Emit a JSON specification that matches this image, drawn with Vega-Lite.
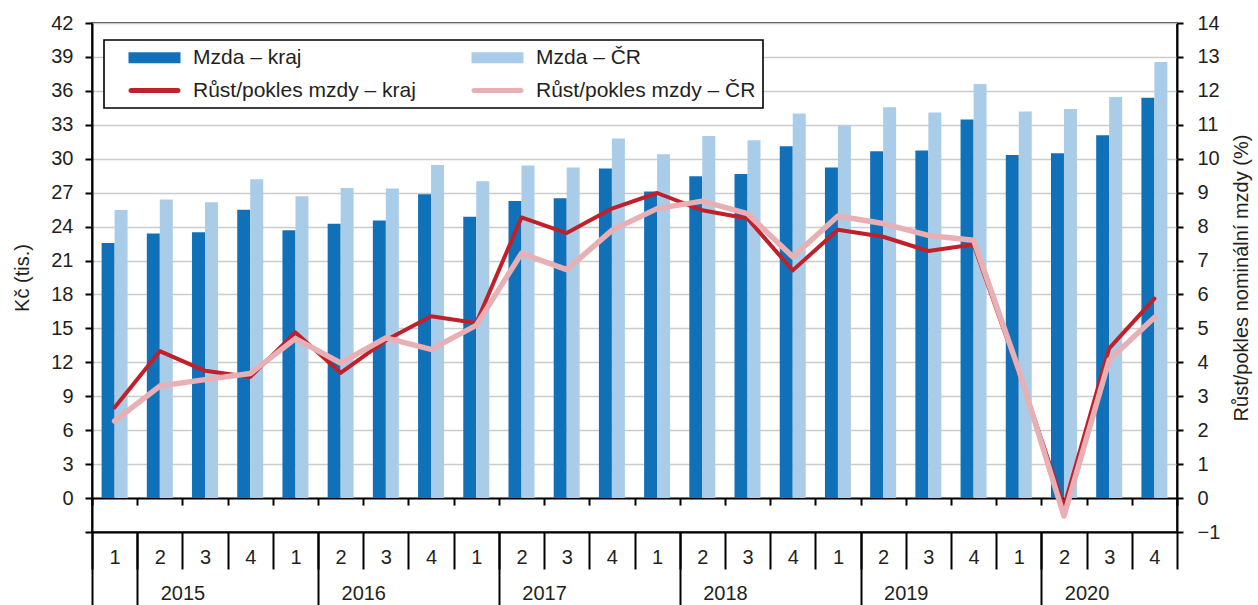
{
  "$schema": "https://vega.github.io/schema/vega-lite/v6.json",
  "width": 1085,
  "height": 509,
  "autosize": {"type": "none"},
  "padding": {"left": 92, "top": 23, "right": 81, "bottom": 73},
  "config": {
    "font": "Liberation Sans",
    "view": {"stroke": "#000000", "strokeWidth": 1.5},
    "axis": {
      "labelFont": "Liberation Sans",
      "labelFontSize": 20,
      "labelColor": "#231F20",
      "titleFont": "Liberation Sans",
      "titleFontSize": 20,
      "titleFontWeight": "normal",
      "titleColor": "#231F20",
      "domainColor": "#000000",
      "domainWidth": 2,
      "tickColor": "#000000",
      "tickWidth": 2
    }
  },
  "data": {
    "values": [
      {"period": "2015-1", "series": "Mzda – kraj", "value": 22.55},
      {"period": "2015-2", "series": "Mzda – kraj", "value": 23.40},
      {"period": "2015-3", "series": "Mzda – kraj", "value": 23.49},
      {"period": "2015-4", "series": "Mzda – kraj", "value": 25.50},
      {"period": "2016-1", "series": "Mzda – kraj", "value": 23.67},
      {"period": "2016-2", "series": "Mzda – kraj", "value": 24.26},
      {"period": "2016-3", "series": "Mzda – kraj", "value": 24.55},
      {"period": "2016-4", "series": "Mzda – kraj", "value": 26.86},
      {"period": "2017-1", "series": "Mzda – kraj", "value": 24.88},
      {"period": "2017-2", "series": "Mzda – kraj", "value": 26.27},
      {"period": "2017-3", "series": "Mzda – kraj", "value": 26.50},
      {"period": "2017-4", "series": "Mzda – kraj", "value": 29.13},
      {"period": "2018-1", "series": "Mzda – kraj", "value": 27.10},
      {"period": "2018-2", "series": "Mzda – kraj", "value": 28.45},
      {"period": "2018-3", "series": "Mzda – kraj", "value": 28.66},
      {"period": "2018-4", "series": "Mzda – kraj", "value": 31.11},
      {"period": "2019-1", "series": "Mzda – kraj", "value": 29.22},
      {"period": "2019-2", "series": "Mzda – kraj", "value": 30.67},
      {"period": "2019-3", "series": "Mzda – kraj", "value": 30.73},
      {"period": "2019-4", "series": "Mzda – kraj", "value": 33.47},
      {"period": "2020-1", "series": "Mzda – kraj", "value": 30.34},
      {"period": "2020-2", "series": "Mzda – kraj", "value": 30.49},
      {"period": "2020-3", "series": "Mzda – kraj", "value": 32.08},
      {"period": "2020-4", "series": "Mzda – kraj", "value": 35.39},
      {"period": "2015-1", "series": "Mzda – ČR", "value": 25.47},
      {"period": "2015-2", "series": "Mzda – ČR", "value": 26.39},
      {"period": "2015-3", "series": "Mzda – ČR", "value": 26.15},
      {"period": "2015-4", "series": "Mzda – ČR", "value": 28.19},
      {"period": "2016-1", "series": "Mzda – ČR", "value": 26.68},
      {"period": "2016-2", "series": "Mzda – ČR", "value": 27.42},
      {"period": "2016-3", "series": "Mzda – ČR", "value": 27.36},
      {"period": "2016-4", "series": "Mzda – ČR", "value": 29.45},
      {"period": "2017-1", "series": "Mzda – ČR", "value": 28.01},
      {"period": "2017-2", "series": "Mzda – ČR", "value": 29.40},
      {"period": "2017-3", "series": "Mzda – ČR", "value": 29.22},
      {"period": "2017-4", "series": "Mzda – ČR", "value": 31.79},
      {"period": "2018-1", "series": "Mzda – ČR", "value": 30.40},
      {"period": "2018-2", "series": "Mzda – ČR", "value": 32.00},
      {"period": "2018-3", "series": "Mzda – ČR", "value": 31.64},
      {"period": "2018-4", "series": "Mzda – ČR", "value": 34.00},
      {"period": "2019-1", "series": "Mzda – ČR", "value": 32.91},
      {"period": "2019-2", "series": "Mzda – ČR", "value": 34.56},
      {"period": "2019-3", "series": "Mzda – ČR", "value": 34.09},
      {"period": "2019-4", "series": "Mzda – ČR", "value": 36.60},
      {"period": "2020-1", "series": "Mzda – ČR", "value": 34.18},
      {"period": "2020-2", "series": "Mzda – ČR", "value": 34.39},
      {"period": "2020-3", "series": "Mzda – ČR", "value": 35.45},
      {"period": "2020-4", "series": "Mzda – ČR", "value": 38.55},
      {"period": "2015-1", "series": "Růst/pokles mzdy – kraj", "value": 2.67},
      {"period": "2015-2", "series": "Růst/pokles mzdy – kraj", "value": 4.33},
      {"period": "2015-3", "series": "Růst/pokles mzdy – kraj", "value": 3.75},
      {"period": "2015-4", "series": "Růst/pokles mzdy – kraj", "value": 3.57},
      {"period": "2016-1", "series": "Růst/pokles mzdy – kraj", "value": 4.88},
      {"period": "2016-2", "series": "Růst/pokles mzdy – kraj", "value": 3.69},
      {"period": "2016-3", "series": "Růst/pokles mzdy – kraj", "value": 4.65},
      {"period": "2016-4", "series": "Růst/pokles mzdy – kraj", "value": 5.36},
      {"period": "2017-1", "series": "Růst/pokles mzdy – kraj", "value": 5.16},
      {"period": "2017-2", "series": "Růst/pokles mzdy – kraj", "value": 8.27},
      {"period": "2017-3", "series": "Růst/pokles mzdy – kraj", "value": 7.81},
      {"period": "2017-4", "series": "Růst/pokles mzdy – kraj", "value": 8.53},
      {"period": "2018-1", "series": "Růst/pokles mzdy – kraj", "value": 8.99},
      {"period": "2018-2", "series": "Růst/pokles mzdy – kraj", "value": 8.48},
      {"period": "2018-3", "series": "Růst/pokles mzdy – kraj", "value": 8.24},
      {"period": "2018-4", "series": "Růst/pokles mzdy – kraj", "value": 6.71},
      {"period": "2019-1", "series": "Růst/pokles mzdy – kraj", "value": 7.91},
      {"period": "2019-2", "series": "Růst/pokles mzdy – kraj", "value": 7.70},
      {"period": "2019-3", "series": "Růst/pokles mzdy – kraj", "value": 7.28},
      {"period": "2019-4", "series": "Růst/pokles mzdy – kraj", "value": 7.47},
      {"period": "2020-1", "series": "Růst/pokles mzdy – kraj", "value": 3.72},
      {"period": "2020-2", "series": "Růst/pokles mzdy – kraj", "value": -0.26},
      {"period": "2020-3", "series": "Růst/pokles mzdy – kraj", "value": 4.41},
      {"period": "2020-4", "series": "Růst/pokles mzdy – kraj", "value": 5.88},
      {"period": "2015-1", "series": "Růst/pokles mzdy – ČR", "value": 2.27},
      {"period": "2015-2", "series": "Růst/pokles mzdy – ČR", "value": 3.30},
      {"period": "2015-3", "series": "Růst/pokles mzdy – ČR", "value": 3.49},
      {"period": "2015-4", "series": "Růst/pokles mzdy – ČR", "value": 3.67},
      {"period": "2016-1", "series": "Růst/pokles mzdy – ČR", "value": 4.70},
      {"period": "2016-2", "series": "Růst/pokles mzdy – ČR", "value": 3.98},
      {"period": "2016-3", "series": "Růst/pokles mzdy – ČR", "value": 4.72},
      {"period": "2016-4", "series": "Růst/pokles mzdy – ČR", "value": 4.38},
      {"period": "2017-1", "series": "Růst/pokles mzdy – ČR", "value": 5.09},
      {"period": "2017-2", "series": "Růst/pokles mzdy – ČR", "value": 7.21},
      {"period": "2017-3", "series": "Růst/pokles mzdy – ČR", "value": 6.73},
      {"period": "2017-4", "series": "Růst/pokles mzdy – ČR", "value": 7.89},
      {"period": "2018-1", "series": "Růst/pokles mzdy – ČR", "value": 8.53},
      {"period": "2018-2", "series": "Růst/pokles mzdy – ČR", "value": 8.75},
      {"period": "2018-3", "series": "Růst/pokles mzdy – ČR", "value": 8.38},
      {"period": "2018-4", "series": "Růst/pokles mzdy – ČR", "value": 7.11},
      {"period": "2019-1", "series": "Růst/pokles mzdy – ČR", "value": 8.31},
      {"period": "2019-2", "series": "Růst/pokles mzdy – ČR", "value": 8.09},
      {"period": "2019-3", "series": "Růst/pokles mzdy – ČR", "value": 7.74},
      {"period": "2019-4", "series": "Růst/pokles mzdy – ČR", "value": 7.60},
      {"period": "2020-1", "series": "Růst/pokles mzdy – ČR", "value": 3.78},
      {"period": "2020-2", "series": "Růst/pokles mzdy – ČR", "value": -0.53},
      {"period": "2020-3", "series": "Růst/pokles mzdy – ČR", "value": 4.07},
      {"period": "2020-4", "series": "Růst/pokles mzdy – ČR", "value": 5.32}
    ]
  },
  "layer": [
    {
      "transform": [{"filter": "indexof(datum.series, 'Mzda') === 0"}],
      "mark": {"type": "bar"},
      "encoding": {
        "x": {
          "field": "period",
          "type": "nominal",
          "scale": {
            "domain": ["2015-1","2015-2","2015-3","2015-4","2016-1","2016-2","2016-3","2016-4","2017-1","2017-2","2017-3","2017-4","2018-1","2018-2","2018-3","2018-4","2019-1","2019-2","2019-3","2019-4","2020-1","2020-2","2020-3","2020-4"],
            "paddingInner": 0,
            "paddingOuter": 0
          },
          "axis": {
            "orient": "bottom",
            "title": null,
            "domain": true,
            "ticks": true,
            "tickBand": "extent",
            "tickSize": 37,
            "labelExpr": "split(datum.value, '-')[1]",
            "labelAngle": 0,
            "labelBaseline": "top",
            "labelPadding": -21.5,
            "grid": false
          }
        },
        "xOffset": {
          "field": "series",
          "type": "nominal",
          "scale": {"domain": ["Mzda – kraj", "Mzda – ČR"], "paddingInner": 0, "paddingOuter": 0.74}
        },
        "y": {
          "field": "value",
          "type": "quantitative",
          "stack": null,
          "scale": {"domain": [-3, 42], "nice": false, "zero": false},
          "axis": {
            "orient": "left",
            "title": "Kč (tis.)",
            "titlePadding": 18,
            "values": [-3, 0, 3, 6, 9, 12, 15, 18, 21, 24, 27, 30, 33, 36, 39, 42],
            "labelExpr": "datum.value < 0 ? '' : datum.label",
            "tickSize": 7,
            "labelPadding": 12,
            "grid": true,
            "gridColor": "#CCCCCC",
            "gridWidth": 1.7
          }
        },
        "color": {
          "field": "series",
          "type": "nominal",
          "scale": {
            "domain": ["Mzda – kraj", "Mzda – ČR", "Růst/pokles mzdy – kraj", "Růst/pokles mzdy – ČR"],
            "range": ["#1071B9", "#A9CDE8", "#C0202A", "#E8B0B4"]
          },
          "legend": {
            "orient": "none",
            "direction": "horizontal",
            "legendX": 12,
            "legendY": 17,
            "title": null,
            "columns": 2,
            "fillColor": "#FFFFFF",
            "strokeColor": "#000000",
            "padding": 7,
            "symbolSize": 400,
            "symbolStrokeWidth": 0,
            "symbolOffset": 33,
            "labelOffset": 28,
            "rowPadding": 11,
            "columnPadding": 38,
            "labelFont": "Liberation Sans",
            "labelFontSize": 21,
            "labelColor": "#231F20",
            "labelLimit": 500,
            "encode": {
              "legend": {
                "update": {
                  "stroke": {"value": "#000000"},
                  "strokeWidth": {"value": 1.6}
                }
              },
              "symbols": {
                "update": {
                  "shape": {"signal": "indexof(datum.value, 'Růst') === 0 ? 'M-2.35,-0.25H2.35A0.25,0.25 0 0 1 2.35,0.25H-2.35A0.25,0.25 0 0 1 -2.35,-0.25Z' : 'M-2.6,-0.55H2.6V0.55H-2.6Z'"},
                  "fill": {"signal": "scale('color', datum.value)"},
                  "stroke": {"value": "transparent"},
                  "strokeWidth": {"value": 0},
                  "opacity": {"value": 1},
                  "fillOpacity": {"value": 1}
                }
              }
            }
          }
        }
      }
    },
    {
      "transform": [{"filter": "datum.series === 'Růst/pokles mzdy – kraj'"}],
      "mark": {"type": "line", "strokeWidth": 4, "strokeJoin": "round", "strokeCap": "round"},
      "encoding": {
        "x": {
          "field": "period",
          "type": "nominal",
          "axis": {
            "orient": "bottom",
            "title": null,
            "domain": false,
            "ticks": true,
            "tickBand": "extent",
            "tickSize": 73,
            "tickColor": {"condition": {"test": "datum.extra || split(datum.value, '-')[1] === '1'", "value": "#000000"}, "value": "transparent"},
            "labelExpr": "split(datum.value, '-')[1] === '3' ? split(datum.value, '-')[0] : ''",
            "labelOffset": -22.6,
            "labelAngle": 0,
            "labelBaseline": "top",
            "labelPadding": -21.5,
            "grid": false
          }
        },
        "y": {
          "field": "value",
          "type": "quantitative",
          "scale": {"domain": [-1, 14], "nice": false, "zero": false},
          "axis": {
            "orient": "right",
            "title": "Růst/pokles nominální mzdy (%)",
            "titleAngle": -90,
            "titleBaseline": "top",
            "titlePadding": 12,
            "values": [-1, 0, 1, 2, 3, 4, 5, 6, 7, 8, 9, 10, 11, 12, 13, 14],
            "tickSize": 6,
            "labelPadding": 14,
            "grid": false
          }
        },
        "color": {"field": "series", "type": "nominal"}
      }
    },
    {
      "transform": [{"filter": "datum.series === 'Růst/pokles mzdy – ČR'"}],
      "mark": {"type": "line", "strokeWidth": 5.5, "strokeJoin": "round", "strokeCap": "round"},
      "encoding": {
        "x": {
          "field": "period",
          "type": "nominal",
          "axis": {
            "orient": "bottom",
            "offset": -33.93,
            "title": null,
            "domain": true,
            "ticks": true,
            "tickBand": "extent",
            "tickSize": 7,
            "labels": false,
            "grid": false
          }
        },
        "y": {
          "field": "value",
          "type": "quantitative",
          "scale": {"domain": [-1, 14], "nice": false, "zero": false},
          "axis": null
        },
        "color": {"field": "series", "type": "nominal"}
      }
    }
  ],
  "resolve": {"scale": {"y": "independent"}, "axis": {"x": "independent"}}
}
